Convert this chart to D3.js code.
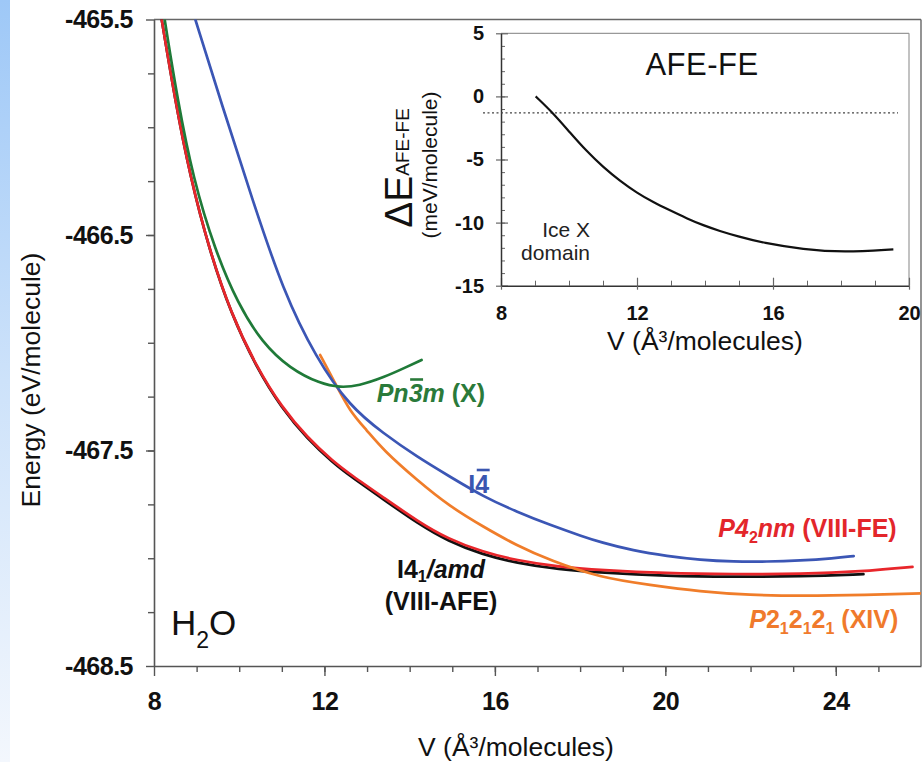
<!DOCTYPE html>
<html><head><meta charset="utf-8">
<script src="https://cdn.jsdelivr.net/npm/d3@7"></script>
<style>
body{margin:0;background:#fff}
svg{display:block}
text{font-family:"Liberation Sans",Arial,Helvetica,sans-serif}
</style>
</head><body>
<svg id="c" width="922" height="762"></svg>
<script>
// ---------------- DATA ----------------
// Main chart: V (Å^3/molecule) vs Energy (eV/molecule)
const xTicksMain = [8, 12, 16, 20, 24];
const yTicksMain = [-465.5, -466.5, -467.5, -468.5];
const yTickLabelsMain = ["-465.5", "-466.5", "-467.5", "-468.5"];

const iceVIII_AFE = [ // black, I4_1/amd
  [8.18,-465.5],[8.5,-465.88],[8.85,-466.23],[9.3,-466.571],[9.8,-466.862],[10.4,-467.114],
  [11.0,-467.305],[11.6,-467.446],[12.2,-467.557],[12.6,-467.618],[13.4,-467.729],[14.2,-467.84],
  [14.9,-467.921],[15.7,-467.982],[16.5,-468.022],[17.5,-468.052],[18.5,-468.067],[20.0,-468.082],
  [21.6,-468.086],[23.2,-468.085],[24.65,-468.074]
];
const iceVIII_FE = [ // red, P4_2nm
  [8.18,-465.5],[8.5,-465.88],[8.85,-466.23],[9.3,-466.57],[9.8,-466.86],[10.4,-467.11],
  [11.0,-467.30],[11.6,-467.44],[12.2,-467.55],[12.6,-467.61],[13.4,-467.72],[14.2,-467.83],
  [14.9,-467.91],[15.7,-467.97],[16.5,-468.01],[17.5,-468.04],[18.5,-468.055],[20.0,-468.07],
  [21.6,-468.074],[23.2,-468.073],[24.6,-468.062],[25.8,-468.04]
];
const iceX = [ // green, Pn-3m
  [8.25,-465.5],[8.55,-465.87],[8.92,-466.24],[9.43,-466.57],[9.97,-466.82],[10.54,-467.0],
  [11.19,-467.12],[11.9,-467.19],[12.37,-467.208],[12.8,-467.2],[13.4,-467.16],[13.9,-467.115],[14.28,-467.08]
];
const iceI4 = [ // blue, I-4
  [8.97,-465.5],[9.6,-465.9],[10.3,-466.33],[11.03,-466.76],[11.8,-467.07],[12.6,-467.297],
  [13.38,-467.42],[14.17,-467.529],[14.95,-467.622],[15.73,-467.714],[16.51,-467.784],[17.3,-467.846],
  [18.08,-467.9],[18.47,-467.925],[19.25,-467.965],[20.04,-467.99],[20.82,-468.008],[21.6,-468.016],
  [22.38,-468.016],[23.16,-468.011],[23.95,-468.0],[24.42,-467.99]
];
const iceXIV = [ // orange, P2_12_12_1
  [11.9,-467.057],[12.25,-467.187],[12.6,-467.32],[12.99,-467.405],[13.38,-467.498],[14.17,-467.637],
  [14.95,-467.761],[15.73,-467.854],[16.5,-467.94],[17.3,-468.01],[18.47,-468.09],[19.64,-468.124],
  [20.82,-468.155],[21.99,-468.171],[23.16,-468.175],[24.73,-468.171],[26.0,-468.163]
];

// Inset: ΔE(AFE-FE) in meV/molecule
const xTicksInset = [8, 12, 16, 20];
const yTicksInset = [5, 0, -5, -10, -15];
const yTickLabelsInset = ["5", "0", "-5", "-10", "-15"];
const deltaAFE_FE = [
  [9.02,0],[9.54,-1.34],[10.03,-2.87],[10.52,-4.35],[11.01,-5.62],[11.5,-6.70],[11.99,-7.63],
  [12.48,-8.39],[12.97,-9.03],[13.46,-9.66],[13.95,-10.22],[14.44,-10.67],[14.93,-11.06],
  [15.72,-11.62],[16.89,-12.12],[18.07,-12.36],[19.54,-12.12]
];
const insetRefLevel = -1.3;

// ---------------- DRAW ----------------
const svg = d3.select('#c');
const defs = svg.append('defs');
const grad = defs.append('linearGradient').attr('id','stripe').attr('x1',0).attr('y1',0).attr('x2',0).attr('y2',1);
grad.append('stop').attr('offset','0%').attr('stop-color','#9ec8f7');
grad.append('stop').attr('offset','50%').attr('stop-color','#cde2fa');
grad.append('stop').attr('offset','100%').attr('stop-color','#f3f7fd');
svg.append('rect').attr('x',0).attr('y',0).attr('width',10).attr('height',762).attr('fill','url(#stripe)');

const x = d3.scaleLinear().domain([8,26]).range([154,921]);
const y = d3.scaleLinear().domain([-468.5,-465.5]).range([666,19.5]);

defs.append('clipPath').attr('id','clipMain').append('rect')
  .attr('x',154).attr('y',19.5).attr('width',767).attr('height',646.5);

const axisColor = '#555';
function styleAxis(g, fs, family, weight){
  g.select('.domain').attr('stroke',axisColor).attr('stroke-width',1.6);
  g.selectAll('.tick line').attr('stroke',axisColor).attr('stroke-width',1.4);
  g.selectAll('.tick text').attr('fill','#111').attr('font-size',fs)
    .attr('font-family',family).attr('font-weight',weight);
}

// minor ticks main
const gxm = svg.append('g').attr('transform','translate(0,666)')
  .call(d3.axisBottom(x).tickValues(d3.range(9,26,1)).tickSize(6).tickFormat(''));
gxm.select('.domain').remove();
gxm.selectAll('.tick line').attr('stroke',axisColor).attr('stroke-width',1.4);
const gym = svg.append('g').attr('transform','translate(154,0)')
  .call(d3.axisLeft(y).tickValues(d3.range(-468.25,-465.5,0.25)).tickSize(6).tickFormat(''));
gym.select('.domain').remove();
gym.selectAll('.tick line').attr('stroke',axisColor).attr('stroke-width',1.4);

// major axes main
const gx = svg.append('g').attr('transform','translate(0,666)')
  .call(d3.axisBottom(x).tickValues(xTicksMain).tickSize(10).tickSizeOuter(0).tickPadding(16).tickFormat(d3.format('d')));
styleAxis(gx, 25, '"Liberation Sans",Arial,sans-serif', 'bold');
gx.selectAll('.tick text').attr('letter-spacing','-0.5px');
const gy = svg.append('g').attr('transform','translate(154,0)')
  .call(d3.axisLeft(y).tickValues(yTicksMain).tickSize(8).tickSizeOuter(0).tickPadding(13)
    .tickFormat((d,i)=>yTickLabelsMain[i]));
styleAxis(gy, 25, '"Liberation Sans",Arial,sans-serif', 'bold');
gy.selectAll('.tick text').attr('letter-spacing','-0.5px');

// frame top & right
svg.append('line').attr('x1',154).attr('x2',921).attr('y1',19.5).attr('y2',19.5).attr('stroke','#666').attr('stroke-width',1.4);
svg.append('line').attr('x1',921).attr('x2',921).attr('y1',19.5).attr('y2',666).attr('stroke','#666').attr('stroke-width',1.4);

// curves
const line = d3.line().x(d=>x(d[0])).y(d=>y(d[1])).curve(d3.curveBasis);
const curves = svg.append('g').attr('clip-path','url(#clipMain)');
const series = [
  {data: iceVIII_AFE, color:'#111111'},
  {data: iceVIII_FE, color:'#e8262b'},
  {data: iceXIV, color:'#f07d2a'},
  {data: iceI4, color:'#3b56b5'},
  {data: iceX, color:'#1f7a38'}
];
curves.selectAll('path').data(series).join('path')
  .attr('d',d=>line(d.data)).attr('fill','none').attr('stroke',d=>d.color)
  .attr('stroke-width',2.7).attr('stroke-linejoin','round').attr('stroke-linecap','round');

// axis titles
svg.append('text').attr('x',516).attr('y',756).attr('text-anchor','middle').attr('font-size',26.5).attr('fill','#111')
  .text('V (Å³/molecules)');
svg.append('text').attr('transform','translate(40,380) rotate(-90)').attr('text-anchor','middle')
  .attr('font-size',26.5).attr('fill','#111').text('Energy (eV/molecule)');

// H2O
const h2o = svg.append('text').attr('x',171).attr('y',635).attr('font-size',35).attr('fill','#111');
h2o.append('tspan').text('H');
h2o.append('tspan').attr('font-size',23).attr('dy',13).text('2');
h2o.append('tspan').attr('dy',-13).text('O');

// series labels
function label(x0, y0, parts, color, anchor, subDy){
  const sd = subDy || 6;
  const t = svg.append('text').attr('x',x0).attr('y',y0).attr('fill',color)
    .attr('font-weight','bold').attr('font-size',25).attr('text-anchor',anchor||'start');
  let shift = 0;
  parts.forEach(p=>{
    const ts = t.append('tspan').text(p.t);
    if(p.i) ts.attr('font-style','italic');
    const want = p.sub ? sd : 0;
    if(want!==shift){ ts.attr('dy', want-shift); shift = want; }
    if(p.sub) ts.attr('font-size',16);
  });
  return t;
}
function overline(t, idx, yy, color){
  const n = t.node();
  const a = n.getStartPositionOfChar(idx).x, b = n.getEndPositionOfChar(idx).x;
  svg.append('line').attr('x1',a+1.5).attr('x2',b+0.5).attr('y1',yy).attr('y2',yy)
    .attr('stroke',color).attr('stroke-width',2.6);
}
const lX = label(376.7, 401.7, [{t:'Pn3m',i:true},{t:' (X)'}], '#2a7a3a');
overline(lX, 2, 379.5, '#2a7a3a');
const lI4 = label(468.3, 493.3, [{t:'I4'}], '#3a56b0');
overline(lI4, 1, 470, '#3a56b0');
label(896.7, 536.7, [{t:'P4',i:true},{t:'2',sub:true},{t:'nm',i:true},{t:' (VIII-FE)'}], '#e3262b', 'end');
label(441, 578, [{t:'I4'},{t:'1',sub:true},{t:'/amd',i:true}], '#111', 'middle', 4);
label(441, 610, [{t:'(VIII-AFE)'}], '#111', 'middle');
label(898.3, 628, [{t:'P',i:true},{t:'2'},{t:'1',sub:true},{t:'2'},{t:'1',sub:true},{t:'2'},{t:'1',sub:true},{t:' (XIV)'}], '#f07a2c', 'end');

// ---------------- INSET ----------------
const xi = d3.scaleLinear().domain([8,20]).range([501,909]);
const yi = d3.scaleLinear().domain([-15,5]).range([285.7,33.3]);
const insetFont = '"DejaVu Sans",Verdana,sans-serif';
const inCol = '#333';

// border top/right
svg.append('line').attr('x1',501).attr('x2',909).attr('y1',33.3).attr('y2',33.3).attr('stroke','#999').attr('stroke-width',1.2);
svg.append('line').attr('x1',909).attr('x2',909).attr('y1',33.3).attr('y2',285.7).attr('stroke','#999').attr('stroke-width',1.2);

// minor ticks (inward)
const giym = svg.append('g').attr('transform','translate(501,0)')
  .call(d3.axisRight(yi).tickValues(d3.range(-14,5,1)).tickSize(4).tickFormat(''));
giym.select('.domain').remove();
giym.selectAll('.tick line').attr('stroke','#666').attr('stroke-width',1);
const gixm = svg.append('g').attr('transform','translate(0,285.7)')
  .call(d3.axisTop(xi).tickValues(d3.range(9,20,1)).tickSize(5).tickFormat(''));
gixm.select('.domain').remove();
gixm.selectAll('.tick line').attr('stroke','#666').attr('stroke-width',1);
// major inward
const giyi = svg.append('g').attr('transform','translate(501,0)')
  .call(d3.axisRight(yi).tickValues(yTicksInset).tickSize(7).tickFormat(''));
giyi.select('.domain').remove();
giyi.selectAll('.tick line').attr('stroke','#666').attr('stroke-width',1.2);
const gixi = svg.append('g').attr('transform','translate(0,285.7)')
  .call(d3.axisTop(xi).tickValues(xTicksInset).tickSize(8).tickFormat(''));
gixi.select('.domain').remove();
gixi.selectAll('.tick line').attr('stroke','#666').attr('stroke-width',1.2);

// major axes with labels
const giy = svg.append('g').attr('transform','translate(501,0)')
  .call(d3.axisLeft(yi).tickValues(yTicksInset).tickSize(5).tickSizeOuter(0).tickPadding(12)
    .tickFormat((d,i)=>yTickLabelsInset[i]));
giy.select('.domain').attr('stroke',inCol).attr('stroke-width',1.5);
giy.selectAll('.tick line').attr('stroke','#666').attr('stroke-width',1.2);
giy.selectAll('.tick text').attr('font-family',insetFont).attr('font-weight','bold').attr('font-size',20).attr('fill','#111');
const gix = svg.append('g').attr('transform','translate(0,285.7)')
  .call(d3.axisBottom(xi).tickValues(xTicksInset).tickSize(4).tickSizeOuter(0).tickPadding(16).tickFormat(d3.format('d')));
gix.select('.domain').attr('stroke',inCol).attr('stroke-width',1.5);
gix.selectAll('.tick line').attr('stroke','#666').attr('stroke-width',1.2);
gix.selectAll('.tick text').attr('font-family',insetFont).attr('font-weight','bold').attr('font-size',20).attr('fill','#111');

// dotted reference
svg.append('line').attr('x1',483).attr('x2',898).attr('y1',yi(insetRefLevel)).attr('y2',yi(insetRefLevel))
  .attr('stroke','#444').attr('stroke-width',1.3).attr('stroke-dasharray','2,2.5');

// inset curve
const lineI = d3.line().x(d=>xi(d[0])).y(d=>yi(d[1])).curve(d3.curveBasis);
svg.append('path').attr('d',lineI(deltaAFE_FE)).attr('fill','none').attr('stroke','#111').attr('stroke-width',2.2);

// inset texts
svg.append('text').attr('x',702).attr('y',75).attr('text-anchor','middle').attr('font-size',31)
  .attr('letter-spacing','0.5px').attr('fill','#111').text('AFE-FE');
svg.append('text').attr('x',590).attr('y',236.7).attr('text-anchor','end').attr('font-size',21).attr('fill','#222').text('Ice X');
svg.append('text').attr('x',590).attr('y',260).attr('text-anchor','end').attr('font-size',21).attr('fill','#222').text('domain');
svg.append('text').attr('x',705).attr('y',349.5).attr('text-anchor','middle').attr('font-size',26.5).attr('fill','#111')
  .text('V (Å³/molecules)');
const dE = svg.append('text').attr('transform','translate(412,168) rotate(-90)').attr('text-anchor','middle').attr('fill','#111');
dE.append('tspan').attr('font-size',39).text('ΔE');
dE.append('tspan').attr('font-size',19).attr('dy',-3).text('AFE-FE');
svg.append('text').attr('transform','translate(437,165) rotate(-90)').attr('text-anchor','middle')
  .attr('font-size',21).attr('fill','#111').text('(meV/molecule)');
</script>
</body></html>
